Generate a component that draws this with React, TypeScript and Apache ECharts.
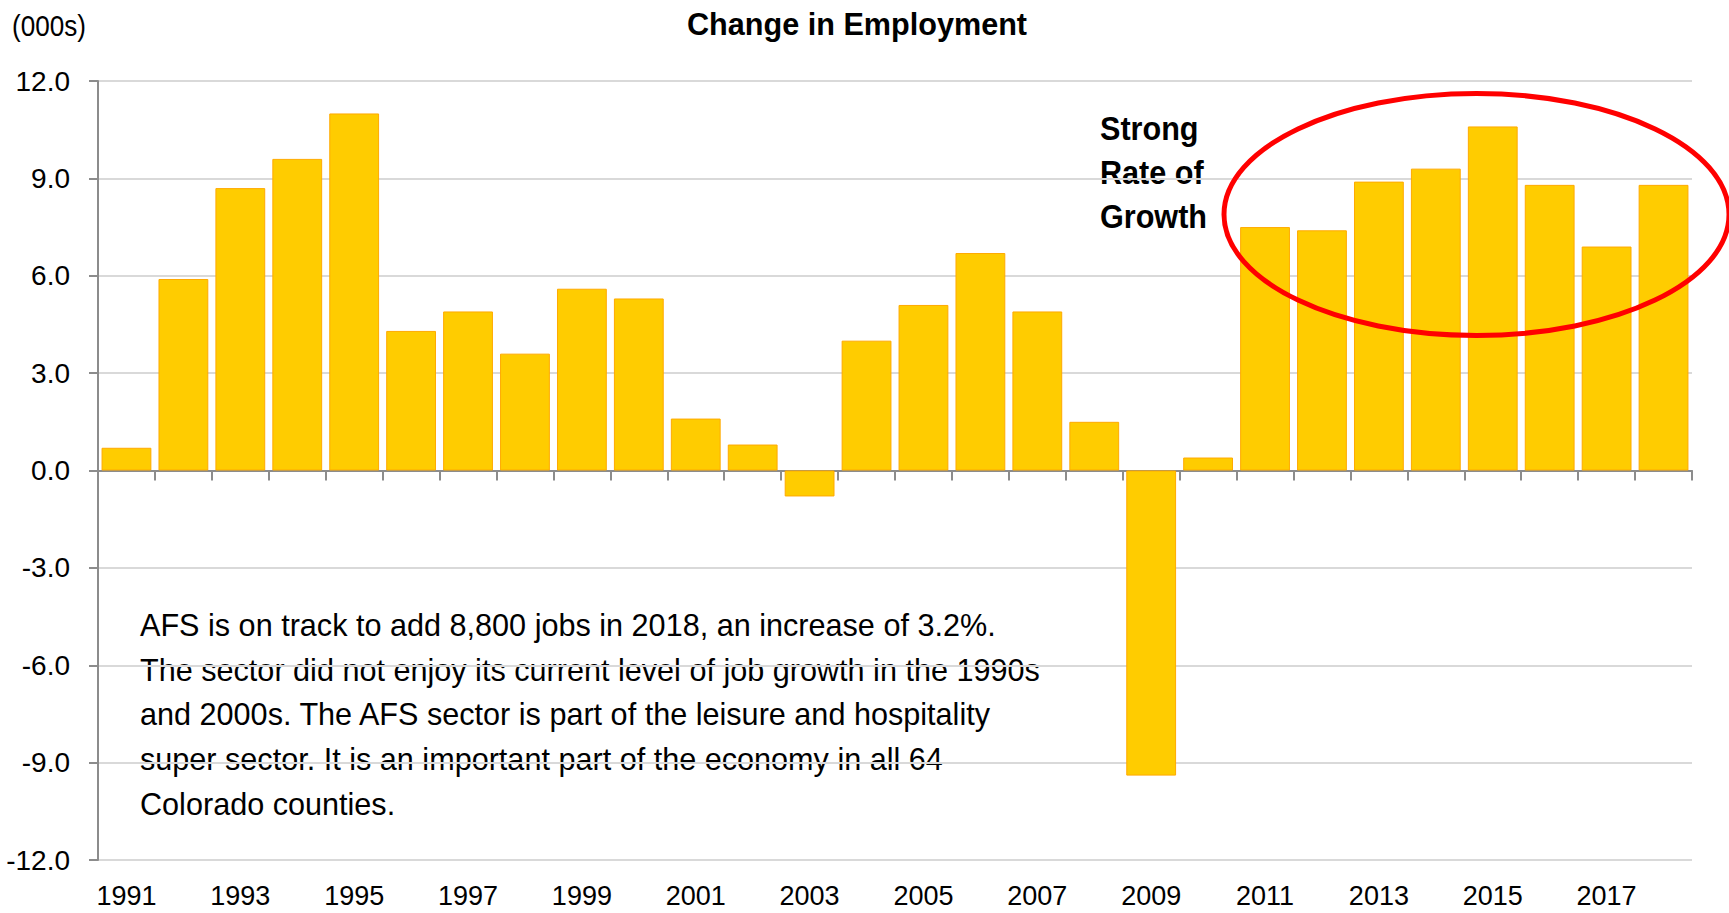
import React, { useEffect, useRef } from "react";
import * as echarts from "echarts";

const years = [
  "1991", "1992", "1993", "1994", "1995", "1996", "1997", "1998", "1999", "2000",
  "2001", "2002", "2003", "2004", "2005", "2006", "2007", "2008", "2009", "2010",
  "2011", "2012", "2013", "2014", "2015", "2016", "2017", "2018",
];
const changeInEmployment = [
  0.7, 5.9, 8.7, 9.6, 11.0, 4.3, 4.9, 3.6, 5.6, 5.3,
  1.6, 0.8, -0.8, 4.0, 5.1, 6.7, 4.9, 1.5, -9.4, 0.4,
  7.5, 7.4, 8.9, 9.3, 10.6, 8.8, 6.9, 8.8,
];
const yMin = -12;
const yMax = 12;
const yStep = 3;
const titleText = "Change in Employment";
const unitText = "(000s)";
const calloutLines = ["Strong", "Rate of", "Growth"];
const noteLines = [
  "AFS is on track to add 8,800 jobs in 2018, an increase of 3.2%.",
  "The sector did not enjoy its current level of job growth in the 1990s",
  "and 2000s. The AFS sector is part of the leisure and hospitality",
  "super sector. It is an important part of the economy in all 64",
  "Colorado counties.",
];

const FONT = "'Liberation Sans Narrow', 'Arial Narrow', 'Liberation Sans', Arial, sans-serif";

export default function App() {
  const ref = useRef<HTMLDivElement>(null);
  useEffect(() => {
    if (!ref.current) return;
    const chart = echarts.init(ref.current, undefined, { renderer: "svg" });
    chart.setOption({
      animation: false,
      backgroundColor: "#ffffff",
      textStyle: { fontFamily: FONT },
      grid: { left: 98, right: 37, top: 81, bottom: 53, containLabel: false },
      xAxis: [
        {
          type: "category",
          data: years,
          boundaryGap: true,
          axisLine: { show: true, onZero: true, lineStyle: { color: "#8c8c8c", width: 2 } },
          axisTick: { show: true, length: 10, alignWithLabel: false, interval: 0, lineStyle: { color: "#8c8c8c", width: 2 } },
          axisLabel: { show: false },
          splitLine: { show: false },
        },
        {
          type: "category",
          data: years,
          position: "bottom",
          boundaryGap: true,
          axisLine: { show: false, onZero: false },
          axisTick: { show: false },
          axisLabel: {
            show: true,
            interval: 1,
            margin: 22,
            color: "#000",
            fontSize: 27,
            fontFamily: FONT,
          },
          splitLine: { show: false },
        },
      ],
      yAxis: {
        type: "value",
        min: yMin,
        max: yMax,
        interval: yStep,
        axisLine: { show: true, lineStyle: { color: "#8c8c8c", width: 2 } },
        axisTick: { show: true, length: 9, lineStyle: { color: "#8c8c8c", width: 2 } },
        axisLabel: {
          margin: 28,
          color: "#000",
          fontSize: 28,
          fontFamily: FONT,
          formatter: (v: number) => v.toFixed(1),
        },
        splitLine: { show: true, lineStyle: { color: "#d9d9d9", width: 2 } },
      },
      series: [
        {
          type: "bar",
          xAxisIndex: 0,
          data: changeInEmployment,
          barCategoryGap: "12.5%",
          itemStyle: { color: "#ffcc00", borderColor: "#ffaa00", borderWidth: 1 },
        },
      ],
      graphic: [
        {
          type: "text",
          x: 687,
          y: 8,
          scaleX: 0.957,
          style: { text: titleText, fill: "#000", font: `bold 32px ${FONT}` },
        },
        {
          type: "text",
          x: 12,
          y: 11,
          scaleX: 0.87,
          style: { text: unitText, fill: "#000", font: `30px ${FONT}` },
        },
        {
          type: "text",
          x: 1100,
          y: 106,
          scaleX: 0.9,
          style: {
            text: calloutLines.join("\n"),
            fill: "#000",
            font: `bold 34px ${FONT}`,
            lineHeight: 44,
          },
        },
        {
          type: "text",
          x: 140,
          y: 603,
          scaleX: 0.957,
          style: {
            text: noteLines.join("\n"),
            fill: "#000",
            font: `32px ${FONT}`,
            lineHeight: 44.7,
          },
        },
        {
          type: "ellipse",
          shape: { cx: 1476.5, cy: 214.5, rx: 252.5, ry: 121 },
          style: { fill: "none", stroke: "#ff0000", lineWidth: 5 },
          z: 100,
        },
      ],
    });
    return () => chart.dispose();
  }, []);
  return (
    <div
      ref={ref}
      style={{ position: "absolute", left: 0, top: 0, width: 1729, height: 913 }}
    />
  );
}
